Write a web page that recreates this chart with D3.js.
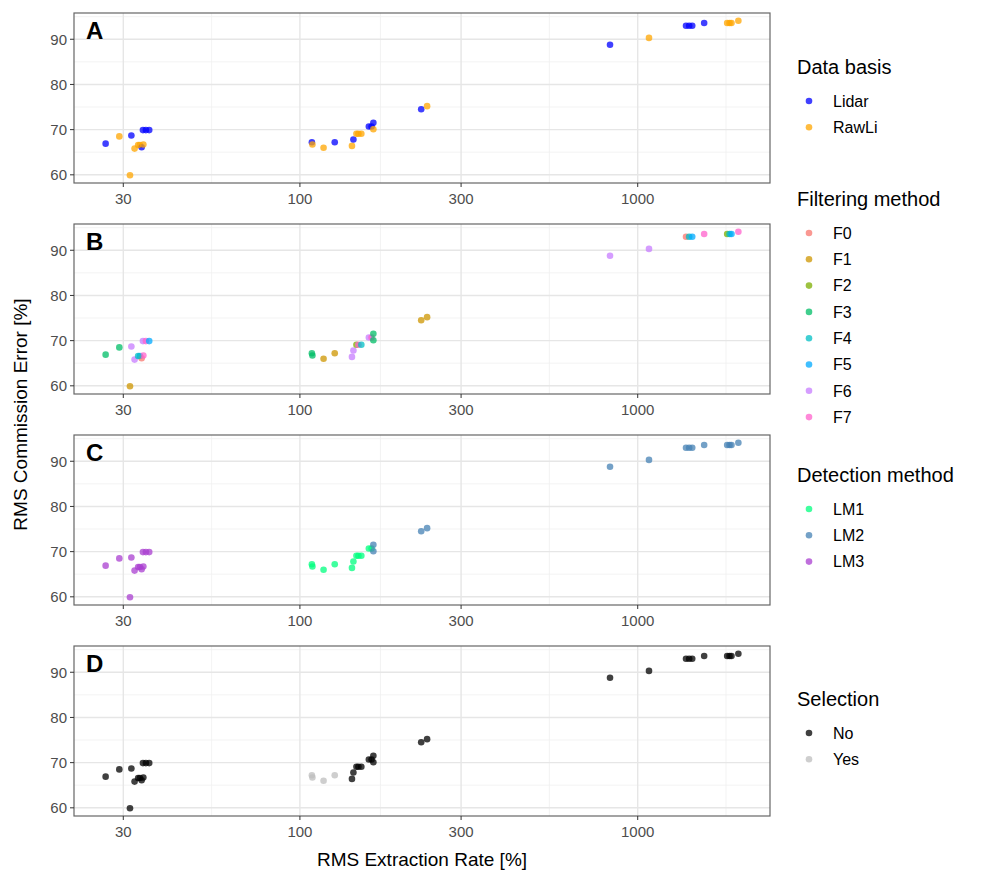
<!DOCTYPE html>
<html>
<head>
<meta charset="utf-8">
<script src="https://cdn.jsdelivr.net/npm/d3@7"></script>
<style>
  body { margin: 0; background: #fff; }
  svg { font-family: "Liberation Sans", Arial, Helvetica, sans-serif; }
  .tick-label { fill: #4d4d4d; font-size: 15px; }
  .axis-title { fill: #000; font-size: 19px; }
  .legend-title { fill: #000; font-size: 20px; }
  .legend-label { fill: #000; font-size: 16px; }
</style>
</head>
<body>
<div class="viz"></div>
<script>
// RMS extraction rate [%] and RMS commission error [%] per run
const extractionRate = [
  26.6, 29.2, 31.7, 31.4, 32.4, 33.6, 34.0, 34.4, 33.2, 34.3, 35.0, 35.8,
  108.5, 108.9, 117.5, 126.8, 142.6, 144, 147, 149, 152, 160, 163, 165, 165,
  228.6, 238, 828, 1080, 1390, 1420, 1450, 1573, 1840, 1870, 1895, 1986
];
const commissionError = [
  66.9, 68.5, 68.7, 59.9, 65.8, 66.6, 66.1, 66.7, 66.6, 69.9, 69.9, 69.9,
  67.2, 66.7, 66.0, 67.2, 66.4, 67.8, 69.1, 69.1, 69.1, 70.7, 70.7, 71.5, 70.1,
  74.5, 75.2, 88.8, 90.3, 93.0, 93.0, 93.0, 93.6, 93.6, 93.6, 93.6, 94.1
];
const dataBasis = [
  "Lidar", "RawLi", "Lidar", "RawLi", "RawLi", "RawLi", "Lidar", "RawLi", "RawLi", "Lidar", "Lidar", "Lidar",
  "Lidar", "RawLi", "RawLi", "Lidar", "RawLi", "Lidar", "RawLi", "RawLi", "RawLi", "Lidar", "Lidar", "Lidar", "RawLi",
  "Lidar", "RawLi", "Lidar", "RawLi", "Lidar", "Lidar", "Lidar", "Lidar", "RawLi", "RawLi", "RawLi", "RawLi"
];
const filtering = [
  "F3", "F3", "F6", "F1", "F6", "F5", "F0", "F7", "F4", "F6", "F7", "F5",
  "F3", "F3", "F1", "F1", "F6", "F6", "F2", "F7", "F4", "F6", "F7", "F3", "F3",
  "F1", "F1", "F6", "F6", "F0", "F4", "F5", "F7", "F2", "F4", "F5", "F7"
];
const detection = [
  "LM3", "LM3", "LM3", "LM3", "LM3", "LM3", "LM3", "LM3", "LM3", "LM3", "LM3", "LM3",
  "LM1", "LM1", "LM1", "LM1", "LM1", "LM1", "LM1", "LM1", "LM1", "LM1", "LM1", "LM2", "LM2",
  "LM2", "LM2", "LM2", "LM2", "LM2", "LM2", "LM2", "LM2", "LM2", "LM2", "LM2", "LM2"
];
const selection = [
  "No", "No", "No", "No", "No", "No", "No", "No", "No", "No", "No", "No",
  "Yes", "Yes", "Yes", "Yes", "No", "No", "No", "No", "No", "No", "No", "No", "No",
  "No", "No", "No", "No", "No", "No", "No", "No", "No", "No", "No", "No"
];

const basisLevels = ["Lidar", "RawLi"];
const filterLevels = ["F0", "F1", "F2", "F3", "F4", "F5", "F6", "F7"];
const detectionLevels = ["LM1", "LM2", "LM3"];
const selectionLevels = ["No", "Yes"];

const xTicks = [30, 100, 300, 1000];
const yTicks = [60, 70, 80, 90];

const WIDTH = 988, HEIGHT = 875;
const LEFT = 74, RIGHT = 770;
const PANEL_TOPS = [13, 224, 435, 646];
const PANEL_H = 170;

const points = extractionRate.map((x, i) => ({
  x: x, y: commissionError[i],
  basis: dataBasis[i], filter: filtering[i],
  detection: detection[i], selection: selection[i]
}));

// colour scales, one per panel
const basisColor = d3.scaleOrdinal(basisLevels, ["#0000ff", "#ffa500"]);
const filterColor = d3.scaleOrdinal(filterLevels,
  ["#F8766D", "#CD9600", "#7CAE00", "#00BE67", "#00BFC4", "#00A9FF", "#C77CFF", "#FF61CC"]);
const detectionColor = d3.scaleOrdinal(detectionLevels, ["#00ff7f", "#4682b4", "#a93fd0"]);
const selectionColor = d3.scaleOrdinal(selectionLevels, ["#000000", "#bebebe"]);

const panels = [
  { label: "A", key: "basis", color: basisColor, title: "Data basis", levels: basisLevels, legendY: 67 },
  { label: "B", key: "filter", color: filterColor, title: "Filtering method", levels: filterLevels, legendY: 199 },
  { label: "C", key: "detection", color: detectionColor, title: "Detection method", levels: detectionLevels, legendY: 475 },
  { label: "D", key: "selection", color: selectionColor, title: "Selection", levels: selectionLevels, legendY: 699 }
];

// ggplot style 5% expansion (x in log space)
const lx = d3.extent(points, d => Math.log10(d.x));
const padX = (lx[1] - lx[0]) * 0.05;
const x = d3.scaleLog()
  .domain([Math.pow(10, lx[0] - padX), Math.pow(10, lx[1] + padX)])
  .range([LEFT, RIGHT]);

const ey = d3.extent(points, d => d.y);
const padY = (ey[1] - ey[0]) * 0.05;

// minor breaks halfway between majors (in transformed space)
const lt = xTicks.map(Math.log10);
const step = lt[lt.length - 1] - lt[lt.length - 2];
const lExt = [lt[0] - (lt[1] - lt[0])].concat(lt, [lt[lt.length - 1] + step]);
const xMinor = d3.range(lExt.length - 1).map(i => Math.pow(10, (lExt[i] + lExt[i + 1]) / 2))
  .filter(v => v > x.domain()[0] && v < x.domain()[1]);
const yMinor = [55, 65, 75, 85, 95];

const svg = d3.select(".viz").append("svg")
  .attr("width", WIDTH)
  .attr("height", HEIGHT);

panels.forEach((p, pi) => {
  const top = PANEL_TOPS[pi];
  const y = d3.scaleLinear()
    .domain([ey[0] - padY, ey[1] + padY])
    .range([top + PANEL_H, top]);

  const g = svg.append("g");

  // grid
  g.selectAll(".xminor").data(xMinor).join("line")
    .attr("x1", d => x(d)).attr("x2", d => x(d))
    .attr("y1", top).attr("y2", top + PANEL_H)
    .attr("stroke", "#f0f0f0").attr("stroke-width", 0.8);
  g.selectAll(".yminor").data(yMinor.filter(v => v > y.domain()[0] && v < y.domain()[1])).join("line")
    .attr("x1", LEFT).attr("x2", RIGHT)
    .attr("y1", d => y(d)).attr("y2", d => y(d))
    .attr("stroke", "#f0f0f0").attr("stroke-width", 0.8);
  g.selectAll(".xmajor").data(xTicks).join("line")
    .attr("x1", d => x(d)).attr("x2", d => x(d))
    .attr("y1", top).attr("y2", top + PANEL_H)
    .attr("stroke", "#e6e6e6").attr("stroke-width", 1.4);
  g.selectAll(".ymajor").data(yTicks).join("line")
    .attr("x1", LEFT).attr("x2", RIGHT)
    .attr("y1", d => y(d)).attr("y2", d => y(d))
    .attr("stroke", "#e6e6e6").attr("stroke-width", 1.4);

  // points
  g.selectAll("circle").data(points).join("circle")
    .attr("cx", d => x(d.x))
    .attr("cy", d => y(d.y))
    .attr("r", 3.3)
    .attr("fill", d => p.color(d[p.key]))
    .attr("fill-opacity", 0.75);

  // border
  g.append("rect")
    .attr("x", LEFT).attr("y", top)
    .attr("width", RIGHT - LEFT).attr("height", PANEL_H)
    .attr("fill", "none").attr("stroke", "#666").attr("stroke-width", 1.2);

  // y ticks
  g.selectAll(".yt").data(yTicks).join("line")
    .attr("x1", LEFT - 4).attr("x2", LEFT)
    .attr("y1", d => y(d)).attr("y2", d => y(d))
    .attr("stroke", "#333").attr("stroke-width", 1);
  g.selectAll(".ytl").data(yTicks).join("text")
    .attr("class", "tick-label")
    .attr("x", LEFT - 7).attr("y", d => y(d))
    .attr("dy", "0.35em").attr("text-anchor", "end")
    .text(d => d);

  // x ticks
  g.selectAll(".xt").data(xTicks).join("line")
    .attr("x1", d => x(d)).attr("x2", d => x(d))
    .attr("y1", top + PANEL_H).attr("y2", top + PANEL_H + 4)
    .attr("stroke", "#333").attr("stroke-width", 1);
  g.selectAll(".xtl").data(xTicks).join("text")
    .attr("class", "tick-label")
    .attr("x", d => x(d)).attr("y", top + PANEL_H + 21)
    .attr("text-anchor", "middle")
    .text(d => d);

  // panel letter
  g.append("text")
    .attr("x", LEFT + 12).attr("y", top + 26)
    .attr("font-size", 24).attr("font-weight", "bold")
    .text(p.label);

  // legend
  const lg = svg.append("g").attr("transform", `translate(797, ${p.legendY})`);
  lg.append("text").attr("class", "legend-title")
    .attr("x", 0).attr("y", 7).text(p.title);
  p.levels.forEach((lev, i) => {
    const ly = 34 + i * 26.3;
    lg.append("circle").attr("cx", 12).attr("cy", ly).attr("r", 3.3)
      .attr("fill", p.color(lev)).attr("fill-opacity", 0.75);
    lg.append("text").attr("class", "legend-label")
      .attr("x", 36).attr("y", ly).attr("dy", "0.36em").text(lev);
  });
});

// axis titles
svg.append("text").attr("class", "axis-title")
  .attr("x", (LEFT + RIGHT) / 2).attr("y", 866)
  .attr("text-anchor", "middle")
  .text("RMS Extraction Rate [%]");
svg.append("text").attr("class", "axis-title")
  .attr("transform", `translate(27, ${(PANEL_TOPS[0] + PANEL_TOPS[3] + PANEL_H) / 2}) rotate(-90)`)
  .attr("text-anchor", "middle")
  .text("RMS Commission Error [%]");
</script>
</body>
</html>
